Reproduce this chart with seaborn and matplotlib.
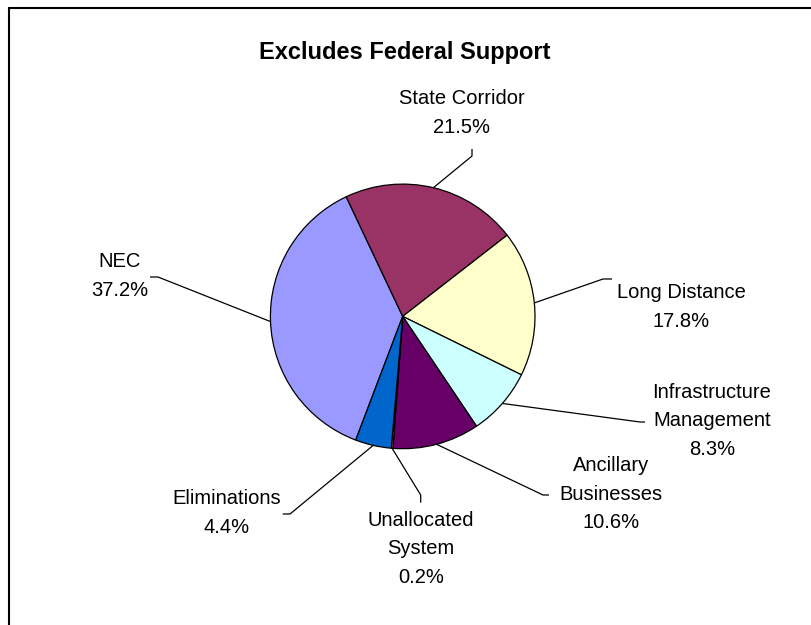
import numpy as np
import matplotlib
matplotlib.use("Agg")
import matplotlib.pyplot as plt
from matplotlib.lines import Line2D
import seaborn as sns

# ---- data ----
categories = ["NEC", "State Corridor", "Long Distance", "Infrastructure\nManagement",
              "Ancillary\nBusinesses", "Unallocated\nSystem", "Eliminations"]
shares = [37.2, 21.5, 17.8, 8.3, 10.6, 0.2, 4.4]
colors = ["#9999FF", "#993366", "#FFFFCC", "#CCFFFF", "#660066", "#FF8080", "#0066CC"]
title = "Excludes Federal Support"

sns.set_style("white")
plt.rcParams['font.family'] = ['Liberation Sans', 'DejaVu Sans']
plt.rcParams['text.color'] = 'black'

W, H = 812, 625
fig = plt.figure(figsize=(W / 100, H / 100), dpi=100)
ax = fig.add_axes([0, 0, 1, 1])

def Y(y):  # image-y to axes-y
    return H - y

cx, cy, R = 402.7, 316.4, 132.3
start = 249.2
wedges, _ = ax.pie(shares, colors=colors, startangle=start, counterclock=False,
                   center=(cx, Y(cy)), radius=R, frame=True,
                   wedgeprops=dict(edgecolor='black', linewidth=0.9))
ax.set_xlim(0, W)
ax.set_ylim(0, H)
ax.set_aspect('equal')
ax.axis('off')

# label layout (image pixel coords): text centre, elbow, end
text_pos = [(120, 276), (462, 113), (681, 307), (712, 421), (611, 494), (421, 549), (227, 513)]
elbows = [(158, 277), (472, 156), (603, 279), (640, 422), (543, 495), (420.7, 495), (290, 514)]
ends = [(150, 277), (472, 149), (612, 279), (645, 422), (549, 495), (420.7, 502.7), (282.7, 514)]

for w, cat, val, tp, el, en in zip(wedges, categories, shares, text_pos, elbows, ends):
    mid = np.deg2rad((w.theta1 + w.theta2) / 2)
    sx = cx + R * np.cos(mid)
    sy = Y(cy) + R * np.sin(mid)
    ax.plot([sx, el[0], en[0]], [sy, Y(el[1]), Y(en[1])], color='black', lw=0.9,
            solid_capstyle='butt')
    ax.text(tp[0], Y(tp[1]), f"{cat}\n{val:.1f}%", ha='center', va='center',
            fontsize=14.5, linespacing=1.65, color='black')

ax.text(405, Y(52), title, ha='center', va='center', fontsize=17, fontweight='bold',
        color='black')

# chart-area frame (left and top edges visible)
fig.add_artist(Line2D([9 / W, 9 / W], [0, 1 - 8 / H], color='black', lw=1.5,
                      transform=fig.transFigure))
fig.add_artist(Line2D([9 / W, 1], [1 - 8 / H, 1 - 8 / H], color='black', lw=1.5,
                      transform=fig.transFigure))

fig.savefig("out.png", dpi=100, facecolor='white')
